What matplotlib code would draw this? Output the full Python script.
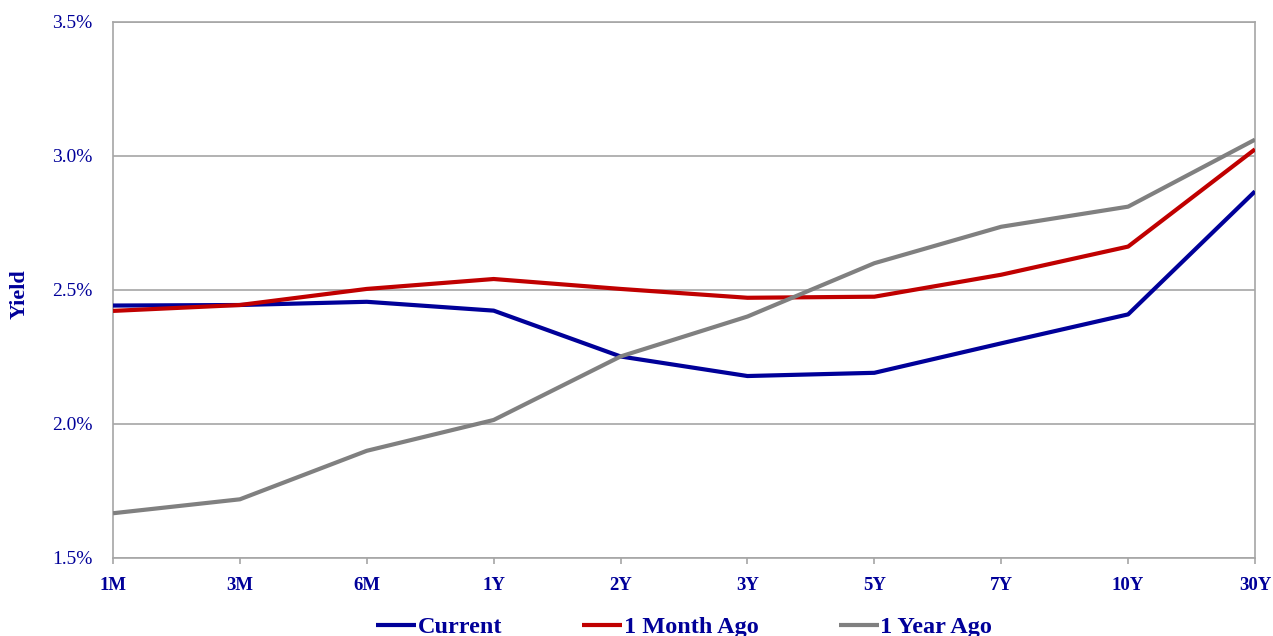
import matplotlib
matplotlib.use("Agg")
import matplotlib.pyplot as plt
from matplotlib.ticker import FuncFormatter, MultipleLocator

maturities = ["1M", "3M", "6M", "1Y", "2Y", "3Y", "5Y", "7Y", "10Y", "30Y"]
current = [2.442, 2.444, 2.456, 2.423, 2.252, 2.179, 2.191, 2.301, 2.409, 2.868]
month_ago = [2.422, 2.444, 2.504, 2.541, 2.504, 2.471, 2.475, 2.557, 2.662, 3.025]
year_ago = [1.667, 1.719, 1.900, 2.015, 2.252, 2.401, 2.600, 2.736, 2.811, 3.061]
series_names = ["Current", "1 Month Ago", "1 Year Ago"]

navy = "#000099"
colors = ["#000099", "#C00000", "#808080"]
grid_c = "#A6A6A6"

plt.rcParams["font.family"] = ["Liberation Serif", "DejaVu Serif"]

fig = plt.figure(figsize=(12.73, 6.36), dpi=100)
ax = fig.add_axes([113/1273, 1-558/636, (1255-113)/1273, (558-22)/636])

x = list(range(len(maturities)))
for vals, name, c in zip([current, month_ago, year_ago], series_names, colors):
    ax.plot(x, vals, color=c, lw=3.0, label=name, solid_capstyle="butt", zorder=3)

ax.set_xlim(0, len(maturities) - 1)
ax.set_ylim(1.5, 3.5)
ax.yaxis.set_major_locator(MultipleLocator(0.5))
ax.yaxis.set_major_formatter(FuncFormatter(lambda v, p: f"{v:.1f}%"))
ax.set_xticks(x)
ax.set_xticklabels(maturities, fontsize=13.5, fontweight="bold", color=navy)
for lab in ax.get_yticklabels():
    lab.set_fontsize(14)
    lab.set_color(navy)

ax.grid(axis="y", color=grid_c, lw=1.2, zorder=0)
ax.set_axisbelow(True)
for s in ["left", "bottom", "right", "top"]:
    ax.spines[s].set_color(grid_c)
    ax.spines[s].set_linewidth(1.2)
ax.tick_params(axis="x", length=4.5, width=1.2, color=grid_c, pad=9)
ax.tick_params(axis="y", length=0, pad=15)

fig.text(20/1273, 1-294/636, "Yield", rotation=90, ha="center", va="center",
         fontsize=16, fontweight="bold", color=navy)

leg = fig.legend(loc="center", bbox_to_anchor=(684/1273, 1-627/636), ncol=3,
                 frameon=False, fontsize=17.5, handlelength=1.65, handletextpad=0.05,
                 columnspacing=3.3)
for t in leg.get_texts():
    t.set_color(navy)
    t.set_fontweight("bold")

fig.savefig("out.png", dpi=100)
